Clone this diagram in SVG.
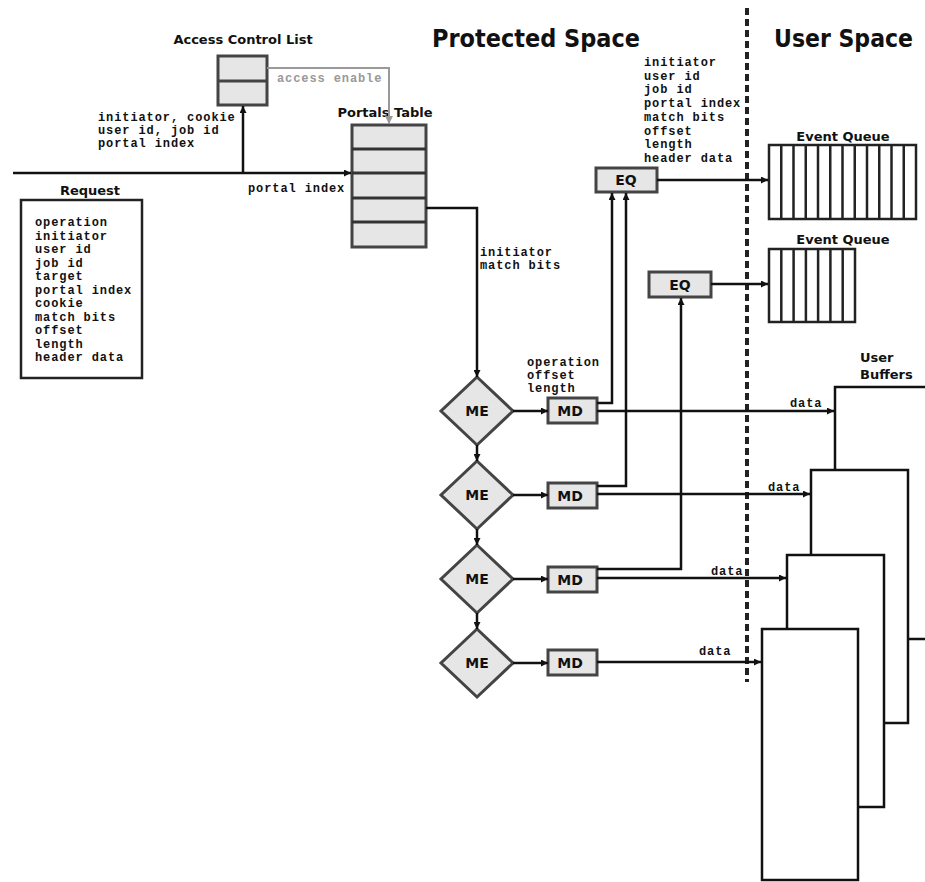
<svg xmlns="http://www.w3.org/2000/svg" width="925" height="882" viewBox="0 0 925 882">
<style>
.box{fill:#e6e6e6;stroke:#444;stroke-width:3}
.buf{fill:#fff;stroke:#111;stroke-width:2.5}
.ln{fill:none;stroke:#111;stroke-width:2.5}
.gl{fill:none;stroke:#999;stroke-width:2}
.mono{font-family:"Liberation Mono","DejaVu Sans Mono",monospace;font-weight:bold;font-size:12px;letter-spacing:0.9px;fill:#111}
.sans{font-family:"DejaVu Sans","Liberation Sans",sans-serif;font-weight:bold;fill:#111}
.lbl{font-size:13px}
.nd{font-size:14px;text-anchor:middle}
.head{font-size:24px}
</style>
<defs>
<marker id="ah" viewBox="0 0 10 10" refX="10" refY="5" markerWidth="7" markerHeight="7" markerUnits="userSpaceOnUse" orient="auto"><path d="M0,0 L10,5 L0,10 z" fill="#111"/></marker>
<marker id="ahg" viewBox="0 0 10 10" refX="10" refY="5" markerWidth="8" markerHeight="8" markerUnits="userSpaceOnUse" orient="auto"><path d="M0,0 L10,5 L0,10 z" fill="#999"/></marker>
</defs>

<text class="sans head" x="432" y="47" textLength="208" lengthAdjust="spacingAndGlyphs">Protected Space</text>
<text class="sans head" x="774" y="47" textLength="139" lengthAdjust="spacingAndGlyphs">User Space</text>
<line x1="747" y1="8" x2="747" y2="682" stroke="#222" stroke-width="4" stroke-dasharray="7,4"/>

<g id="request">
<text class="sans lbl" x="90" y="195" text-anchor="middle">Request</text>
<rect x="21" y="200" width="121" height="178" fill="#fff" stroke="#222" stroke-width="2.5"/>
<text class="mono" x="35"><tspan x="35" y="226">operation</tspan><tspan x="35" y="239.5">initiator</tspan><tspan x="35" y="253">user id</tspan><tspan x="35" y="266.5">job id</tspan><tspan x="35" y="280">target</tspan><tspan x="35" y="293.5">portal index</tspan><tspan x="35" y="307">cookie</tspan><tspan x="35" y="320.5">match bits</tspan><tspan x="35" y="334">offset</tspan><tspan x="35" y="347.5">length</tspan><tspan x="35" y="361">header data</tspan></text>
</g>

<g id="acl">
<text class="sans lbl" x="243" y="44" text-anchor="middle">Access Control List</text>
<rect class="box" x="218" y="56" width="49" height="49"/>
<line x1="218" y1="81" x2="267" y2="81" stroke="#444" stroke-width="3"/>
</g>

<g id="portals">
<text class="sans lbl" x="385" y="117" text-anchor="middle">Portals Table</text>
<rect class="box" x="352" y="125" width="74" height="122"/>
<path d="M352,149H426M352,173H426M352,198H426M352,222H426" stroke="#333" stroke-width="3"/>
</g>

<g id="me1"><path class="box" d="M477,377 L513,411 L477,445 L441,411 z"/><text class="sans nd" x="477" y="416">ME</text></g>
<g id="me2"><path class="box" d="M477,461 L513,495 L477,529 L441,495 z"/><text class="sans nd" x="477" y="500">ME</text></g>
<g id="me3"><path class="box" d="M477,545 L513,579 L477,613 L441,579 z"/><text class="sans nd" x="477" y="584">ME</text></g>
<g id="me4"><path class="box" d="M477,629 L513,663 L477,697 L441,663 z"/><text class="sans nd" x="477" y="668">ME</text></g>

<g id="md1"><rect class="box" x="548" y="398" width="49" height="25"/><text class="sans nd" x="570" y="416">MD</text></g>
<g id="md2"><rect class="box" x="548" y="483" width="49" height="25"/><text class="sans nd" x="570" y="501">MD</text></g>
<g id="md3"><rect class="box" x="548" y="567" width="49" height="25"/><text class="sans nd" x="570" y="585">MD</text></g>
<g id="md4"><rect class="box" x="548" y="650" width="49" height="25"/><text class="sans nd" x="570" y="668">MD</text></g>

<g id="eq1"><rect class="box" x="596" y="168" width="61" height="24"/><text class="sans nd" x="626" y="185">EQ</text></g>
<g id="eq2"><rect class="box" x="649" y="272" width="62" height="25"/><text class="sans nd" x="680" y="290">EQ</text></g>

<g id="eventqueue1">
<text class="sans lbl" x="843" y="141" text-anchor="middle">Event Queue</text>
<rect x="769" y="145" width="147" height="74" fill="#fff" stroke="#222" stroke-width="2.5"/>
<path d="M781.25,145V219M793.5,145V219M805.75,145V219M818,145V219M830.25,145V219M842.5,145V219M854.75,145V219M867,145V219M879.25,145V219M891.5,145V219M903.75,145V219" stroke="#222" stroke-width="2.5"/>
</g>
<g id="eventqueue2">
<text class="sans lbl" x="843" y="244" text-anchor="middle">Event Queue</text>
<rect x="769" y="249" width="86" height="73" fill="#fff" stroke="#222" stroke-width="2.5"/>
<path d="M781.3,249V322M793.6,249V322M805.9,249V322M818.1,249V322M830.4,249V322M842.7,249V322" stroke="#222" stroke-width="2.5"/>
</g>

<g id="userbuffers">
<text class="sans lbl"><tspan x="860" y="362">User</tspan><tspan x="860" y="379">Buffers</tspan></text>
<rect class="buf" x="835" y="387" width="100" height="252"/>
<rect class="buf" x="811" y="470" width="97" height="253"/>
<rect class="buf" x="787" y="555" width="97" height="252"/>
<rect class="buf" x="762" y="629" width="96" height="251"/>
</g>

<g id="connectors">
<path class="ln" d="M13,173 H351" stroke-width="3" marker-end="url(#ah)"/>
<path class="ln" d="M243,173 V106" marker-end="url(#ah)"/>
<path class="gl" d="M267,68 H389 V124" marker-end="url(#ahg)"/>
<path class="ln" d="M426,208 H477 V377" marker-end="url(#ah)"/>
<path class="ln" d="M477,445 V461" marker-end="url(#ah)"/>
<path class="ln" d="M477,529 V545" marker-end="url(#ah)"/>
<path class="ln" d="M477,613 V629" marker-end="url(#ah)"/>
<path class="ln" d="M513,411 H548" marker-end="url(#ah)"/>
<path class="ln" d="M513,495 H548" marker-end="url(#ah)"/>
<path class="ln" d="M513,579 H548" marker-end="url(#ah)"/>
<path class="ln" d="M513,663 H548" marker-end="url(#ah)"/>
<path class="ln" d="M597,403 H612 V193" stroke="#333" marker-end="url(#ah)"/>
<path class="ln" d="M597,486 H626 V193" stroke="#333" marker-end="url(#ah)"/>
<path class="ln" d="M597,569 H681 V298" stroke="#333" marker-end="url(#ah)"/>
<path class="ln" d="M597,411 H834" marker-end="url(#ah)"/>
<path class="ln" d="M597,494 H810" marker-end="url(#ah)"/>
<path class="ln" d="M597,578 H786" marker-end="url(#ah)"/>
<path class="ln" d="M597,662 H761" marker-end="url(#ah)"/>
<path class="ln" d="M657,180 H768" stroke="#333" marker-end="url(#ah)"/>
<path class="ln" d="M711,284 H768" stroke="#333" marker-end="url(#ah)"/>
</g>

<text class="mono"><tspan x="98" y="121">initiator, cookie</tspan><tspan x="98" y="134">user id, job id</tspan><tspan x="98" y="147">portal index</tspan></text>
<text class="mono" x="277" y="82" style="fill:#999">access enable</text>
<text class="mono" x="248" y="192">portal index</text>
<text class="mono"><tspan x="480" y="256">initiator</tspan><tspan x="480" y="269">match bits</tspan></text>
<text class="mono"><tspan x="644" y="66">initiator</tspan><tspan x="644" y="79.7">user id</tspan><tspan x="644" y="93.4">job id</tspan><tspan x="644" y="107.1">portal index</tspan><tspan x="644" y="120.8">match bits</tspan><tspan x="644" y="134.5">offset</tspan><tspan x="644" y="148.2">length</tspan><tspan x="644" y="162">header data</tspan></text>
<text class="mono"><tspan x="527" y="366">operation</tspan><tspan x="527" y="379">offset</tspan><tspan x="527" y="392">length</tspan></text>
<text class="mono" x="790" y="407">data</text>
<text class="mono" x="768" y="491">data</text>
<text class="mono" x="711" y="575">data</text>
<text class="mono" x="699" y="655">data</text>
</svg>
